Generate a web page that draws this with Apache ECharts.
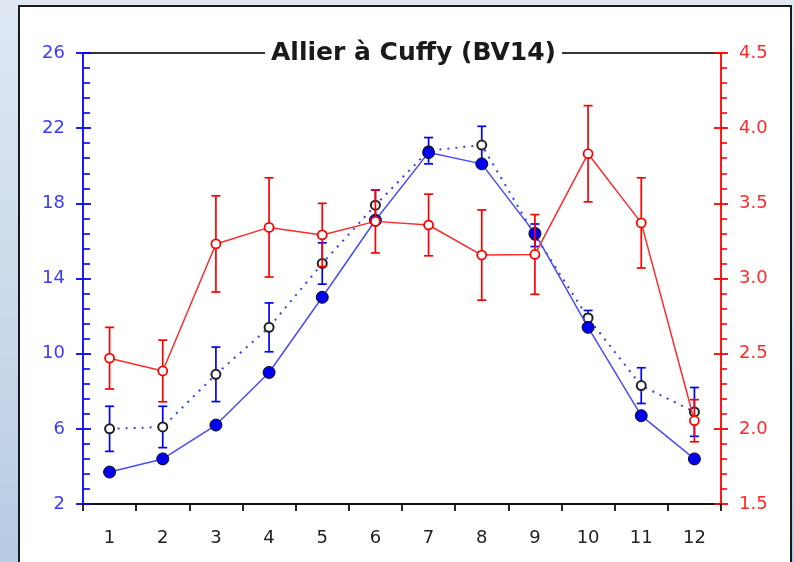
<!DOCTYPE html>
<html><head><meta charset="utf-8">
<script src="https://cdn.jsdelivr.net/npm/echarts@6/dist/echarts.min.js"></script>
<style>
html,body{margin:0;padding:0;}
body{width:794px;height:562px;background:linear-gradient(180deg,#dfe8f3 0%,#c9d8ea 60%,#b7cbe3 100%);overflow:hidden;}
#c{width:794px;height:562px;}
</style></head><body><div id="c"></div>
<script>
const months = ['1','2','3','4','5','6','7','8','9','10','11','12'];
const blueFilled = [3.7,4.4,6.2,9.0,13.0,17.1,20.7,20.1,16.4,11.4,6.7,4.4];
const blueOpen = [6.0,6.1,8.9,11.4,14.8,17.9,20.8,21.1,16.3,11.9,8.3,6.9];
const blueOpenErr = [1.2,1.1,1.45,1.3,1.1,0.8,0.7,1.0,0.6,0.4,0.95,1.3];
const redVals = [2.47,2.385,3.23,3.34,3.29,3.38,3.356,3.156,3.16,3.83,3.37,2.054];
const redErr = [0.205,0.205,0.32,0.33,0.21,0.21,0.205,0.3,0.265,0.32,0.3,0.14];
const leftTicks = {min:2, max:26, interval:4};
const rightTicks = {min:1.5, max:4.5, interval:0.5};
const titleText = 'Allier à Cuffy (BV14)';

const chart = echarts.init(document.getElementById('c'), null, {renderer:'canvas'});
function errBar(color){
  return function(params, api){
    const x = api.value(0), v = api.value(1), e = api.value(2);
    const hi = api.coord([x, v+e]), lo = api.coord([x, v-e]);
    const cw = 4.5;
    const st = {stroke:color, lineWidth:1.7};
    return {type:'group', children:[
      {type:'line', shape:{x1:hi[0],y1:hi[1],x2:lo[0],y2:lo[1]}, style:st},
      {type:'line', shape:{x1:hi[0]-cw,y1:hi[1],x2:hi[0]+cw,y2:hi[1]}, style:st},
      {type:'line', shape:{x1:lo[0]-cw,y1:lo[1],x2:lo[0]+cw,y2:lo[1]}, style:st}
    ]};
  };
}
const lblFont = {fontFamily:'DejaVu Sans, Liberation Sans, sans-serif', fontSize:18};
const option = {
  animation:false,
  backgroundColor:'transparent',
  graphic:[{type:'rect', left:18, top:5, shape:{width:772, height:620}, style:{fill:'#fff', stroke:'#1a1a1a', lineWidth:2}, z:-10}],
  title:{text:titleText, left:265, top:38, padding:[0,6], backgroundColor:'#fff',
    textStyle:{fontFamily:'DejaVu Sans, Liberation Sans, sans-serif', fontWeight:'bold', fontSize:25, color:'#1a1a1a', lineHeight:30}},
  grid:{left:83, right:73, top:53, bottom:58},
  xAxis:[
    {type:'category', data:months, position:'bottom', boundaryGap:true,
      axisLine:{lineStyle:{color:'#111', width:1.8}},
      axisTick:{show:true, length:7, lineStyle:{color:'#111', width:1.8}, alignWithLabel:false},
      axisLabel:Object.assign({color:'#222', margin:25}, lblFont), splitLine:{show:false}},
    {type:'category', data:months, position:'top', boundaryGap:true,
      axisLine:{lineStyle:{color:'#333', width:1.8}}, axisTick:{show:false}, axisLabel:{show:false}}
  ],
  yAxis:[
    Object.assign({type:'value', position:'left',
      axisLine:{show:true, lineStyle:{color:'#0000ff', width:1.8}},
      axisTick:{show:true, inside:true, length:8, lineStyle:{color:'#0000ff', width:1.8}},
      minorTick:{show:true, splitNumber:5, length:7, lineStyle:{color:'#0000ff', width:1.6}},
      axisLabel:Object.assign({color:'#3a3aff', margin:18}, lblFont),
      splitLine:{show:false}}, leftTicks),
    Object.assign({type:'value', position:'right',
      axisLine:{show:true, lineStyle:{color:'#ff0000', width:1.8}},
      axisTick:{show:true, inside:false, length:7, lineStyle:{color:'#ff0000', width:1.8}},
      minorTick:{show:true, splitNumber:5, length:6, lineStyle:{color:'#ff0000', width:1.6}},
      axisLabel:Object.assign({color:'#ff2a2a', margin:18, formatter:v=>v.toFixed(1)}, lblFont),
      splitLine:{show:false}}, rightTicks),
    Object.assign({type:'value', position:'left',
      axisLine:{show:false}, axisTick:{show:true, inside:false, length:7, lineStyle:{color:'#0000ff', width:1.8}},
      axisLabel:{show:false}, splitLine:{show:false}}, leftTicks),
    Object.assign({type:'value', position:'right',
      axisLine:{show:false}, axisTick:{show:true, inside:true, length:7, lineStyle:{color:'#ff0000', width:1.8}},
      axisLabel:{show:false}, splitLine:{show:false}}, rightTicks)
  ],
  series:[
    {type:'custom', name:'errOpen', yAxisIndex:0, renderItem:errBar('#0000ff'),
      data:months.map((m,i)=>[i, blueOpen[i], blueOpenErr[i]]), encode:{x:0,y:1}, z:2},
    {type:'line', name:'open', yAxisIndex:0, data:blueOpen, symbol:'circle', symbolSize:9,
      lineStyle:{color:'#3a3aff', width:2, type:[2,6]},
      itemStyle:{color:'#fff', borderColor:'#222', borderWidth:2}, z:3},
    {type:'line', name:'filled', yAxisIndex:0, data:blueFilled, symbol:'circle', symbolSize:12,
      lineStyle:{color:'#4a4aff', width:1.5},
      itemStyle:{color:'#0000ee', borderColor:'#111', borderWidth:1}, z:4},
    {type:'custom', name:'errRed', yAxisIndex:1, renderItem:errBar('#ff0000'),
      data:months.map((m,i)=>[i, redVals[i], redErr[i]]), encode:{x:0,y:1}, z:5},
    {type:'line', name:'red', yAxisIndex:1, data:redVals, symbol:'circle', symbolSize:9,
      lineStyle:{color:'#ff2a2a', width:1.5},
      itemStyle:{color:'#fff', borderColor:'#ff0000', borderWidth:1.8}, z:6}
  ]
};
chart.setOption(option);
</script></body></html>
